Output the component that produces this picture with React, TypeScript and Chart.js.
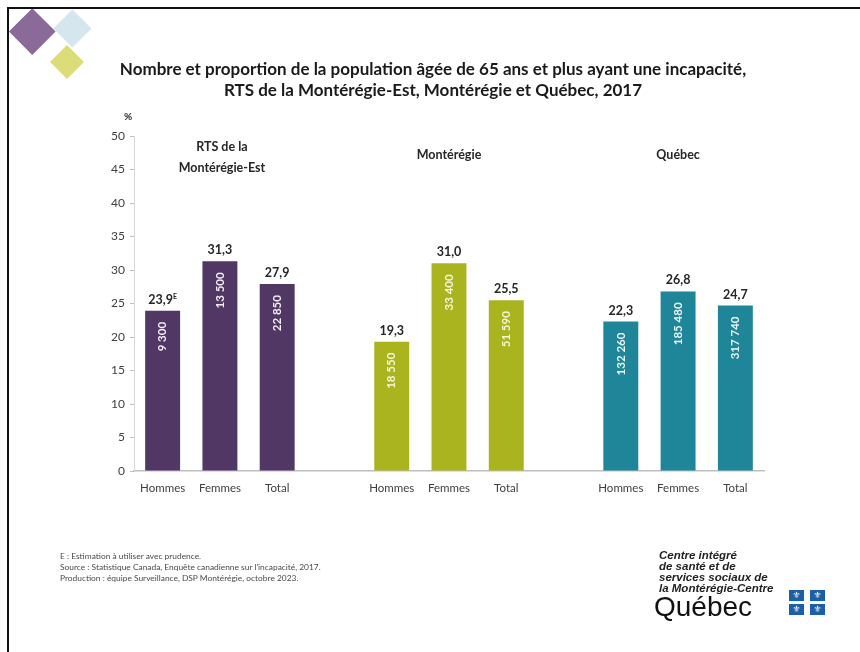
import React, { useEffect, useRef } from "react";
import { Chart, registerables } from "chart.js";

Chart.register(...registerables);

const groupNames: string[][] = [["RTS de la", "Montérégie-Est"], ["Montérégie"], ["Québec"]];
const sexLabels: string[] = ["Hommes", "Femmes", "Total"];
const rtsPct: number[] = [23.9, 31.3, 27.9];
const montPct: number[] = [19.3, 31.0, 25.5];
const quebecPct: number[] = [22.3, 26.8, 24.7];
const rtsCounts: number[] = [9300, 13500, 22850];
const montCounts: number[] = [18550, 33400, 51590];
const quebecCounts: number[] = [132260, 185480, 317740];
const rtsFlags: string[] = ["E", "", ""];
const montFlags: string[] = ["", "", ""];
const quebecFlags: string[] = ["", "", ""];
const groupColors: string[] = ["#513764", "#a9b41f", "#1f8598"];
const countTextColors: string[] = ["#f3eef7", "#f6f6d8", "#eaf6f8"];
const yTicks: number[] = [0, 5, 10, 15, 20, 25, 30, 35, 40, 45, 50];

const FONT = "Lato, 'Open Sans', sans-serif";

const pctGroups = [rtsPct, montPct, quebecPct];
const countGroups = [rtsCounts, montCounts, quebecCounts];
const flagGroups = [rtsFlags, montFlags, quebecFlags];

// build flat category table with spacer slots between groups
const labels: string[] = [];
const values: (number | null)[] = [];
const counts: (number | null)[] = [];
const flags: string[] = [];
const colors: string[] = [];
const textColors: string[] = [];
pctGroups.forEach((g, gi) => {
  if (gi > 0) {
    labels.push("");
    values.push(null);
    counts.push(null);
    flags.push("");
    colors.push("rgba(0,0,0,0)");
    textColors.push("#fff");
  }
  g.forEach((v, i) => {
    labels.push(sexLabels[i]);
    values.push(v);
    counts.push(countGroups[gi][i]);
    flags.push(flagGroups[gi][i]);
    colors.push(groupColors[gi]);
    textColors.push(countTextColors[gi]);
  });
});

const fmtPct = (v: number) => v.toFixed(1).replace(".", ",");
const fmtCount = (v: number) => String(v).replace(/\B(?=(\d{3})+(?!\d))/g, " ");

const labelPlugin = {
  id: "barLabels",
  afterDatasetsDraw(chart: any) {
    const ctx = chart.ctx;
    const meta = chart.getDatasetMeta(0);
    const xs = chart.scales.x;
    const ys = chart.scales.y;
    ctx.save();
    meta.data.forEach((bar: any, i: number) => {
      const v = values[i];
      if (v == null) return;
      // value above bar
      ctx.fillStyle = "#262626";
      ctx.textBaseline = "alphabetic";
      ctx.font = `bold 12.5px ${FONT}`;
      const txt = fmtPct(v);
      const w = ctx.measureText(txt).width;
      const f = flags[i];
      let fw = 0;
      ctx.font = `bold 7px ${FONT}`;
      if (f) fw = ctx.measureText(f).width;
      const startX = bar.x - (w + fw) / 2;
      ctx.font = `bold 12.5px ${FONT}`;
      ctx.textAlign = "left";
      ctx.fillText(txt, startX, bar.y - 7);
      if (f) {
        ctx.font = `bold 7px ${FONT}`;
        ctx.fillText(f, startX + w, bar.y - 12);
      }
      // count inside bar, rotated
      const c = counts[i];
      if (c != null) {
        ctx.save();
        ctx.translate(bar.x, bar.y + 11);
        ctx.rotate(-Math.PI / 2);
        ctx.fillStyle = textColors[i];
        ctx.font = `bold 11.5px ${FONT}`;
        ctx.textAlign = "right";
        ctx.textBaseline = "middle";
        ctx.fillText(fmtCount(c), 0, 0);
        ctx.restore();
      }
    });
    // group titles
    ctx.fillStyle = "#262626";
    ctx.font = `bold 12.5px ${FONT}`;
    ctx.textAlign = "center";
    ctx.textBaseline = "middle";
    groupNames.forEach((lines, gi) => {
      const idx = gi * 4 + 1;
      const cx = xs.getPixelForValue(idx);
      const multi = lines.length > 1;
      const cy = ys.getPixelForValue(47.2) + (multi ? 3 : 0);
      const lh = 21;
      const y0 = cy - ((lines.length - 1) * lh) / 2;
      lines.forEach((ln, li) => ctx.fillText(ln, cx + (multi ? 2 : 0), y0 + li * lh));
    });
    // % unit
    ctx.font = `bold 10px ${FONT}`;
    ctx.textAlign = "center";
    ctx.fillText("%", chart.chartArea.left - 6, ys.getPixelForValue(50) - 19);
    ctx.restore();
  },
};

export default function App() {
  const canvasRef = useRef<HTMLCanvasElement | null>(null);

  useEffect(() => {
    const canvas = canvasRef.current;
    if (!canvas) return;
    const chart = new Chart(canvas, {
      type: "bar",
      data: {
        labels,
        datasets: [
          {
            data: values as any,
            backgroundColor: colors,
            barPercentage: 0.61,
            categoryPercentage: 1,
          },
        ],
      },
      options: {
        responsive: false,
        animation: false,
        layout: { padding: { left: 100, right: 96, top: 136, bottom: 151 } },
        plugins: { legend: { display: false }, tooltip: { enabled: false }, title: { display: false } },
        scales: {
          x: {
            grid: { display: false, drawTicks: false },
            border: { display: true, color: "#bfbfbf", width: 1.5 },
            ticks: {
              autoSkip: false,
              maxRotation: 0,
              padding: 10,
              color: "#404040",
              font: { family: FONT, size: 11.5 },
            },
            afterFit: (s: any) => {
              s.height = 30;
            },
          },
          y: {
            min: 0,
            max: 50,
            afterBuildTicks: (s: any) => {
              s.ticks = yTicks.map((v) => ({ value: v }));
            },
            grid: { drawOnChartArea: false, drawTicks: true, tickLength: 4, color: "#bfbfbf" },
            border: { display: true, color: "#d9d9d9", width: 1 },
            ticks: {
              padding: 5,
              color: "#404040",
              font: { family: FONT, size: 12 },
            },
            afterFit: (s: any) => {
              s.width = 34;
            },
          },
        },
      },
      plugins: [labelPlugin],
    });
    return () => chart.destroy();
  }, []);

  const diamond = (cx: number, cy: number, half: number, color: string) => (
    <div
      style={{
        position: "absolute",
        left: cx - half / Math.SQRT2,
        top: cy - half / Math.SQRT2,
        width: half * Math.SQRT2,
        height: half * Math.SQRT2,
        background: color,
        transform: "rotate(45deg)",
      }}
    />
  );

  const flag = (x: number, y: number) => (
    <div
      style={{
        position: "absolute",
        left: x,
        top: y,
        width: 15,
        height: 11,
        background: "#1b5fa6",
        color: "#fff",
        fontSize: 9,
        lineHeight: "11px",
        textAlign: "center",
        fontFamily: "'DejaVu Sans', sans-serif",
      }}
    >
      ⚜
    </div>
  );

  return (
    <div
      style={{
        position: "fixed",
        left: 0,
        top: 0,
        width: 860,
        height: 652,
        background: "#fff",
        overflow: "hidden",
        fontFamily: FONT,
      }}
    >
      {diamond(32, 31, 23, "#8a6a98")}
      {diamond(72, 28, 19, "#d5e6ee")}
      {diamond(67, 62, 17, "#dbde78")}
      <div
        style={{
          position: "absolute",
          left: 7,
          top: 7,
          width: 900,
          height: 700,
          borderTop: "2.5px solid #111",
          borderLeft: "2.5px solid #111",
        }}
      />
      <canvas ref={canvasRef} width={860} height={652} style={{ position: "absolute", left: 0, top: 0 }} />
      <div
        style={{
          position: "absolute",
          left: 0,
          width: 866,
          top: 58,
          textAlign: "center",
          fontWeight: 700,
          fontSize: 17,
          lineHeight: "21px",
          color: "#1a1a1a",
        }}
      >
        Nombre et proportion de la population âgée de 65 ans et plus ayant une incapacité,
        <br />
        RTS de la Montérégie-Est, Montérégie et Québec, 2017
      </div>
      <div
        style={{
          position: "absolute",
          left: 60,
          top: 551,
          fontSize: 8.4,
          lineHeight: "11px",
          color: "#4a4a4a",
        }}
      >
        E : Estimation à utiliser avec prudence.
        <br />
        Source : Statistique Canada, Enquête canadienne sur l'incapacité, 2017.
        <br />
        Production : équipe Surveillance, DSP Montérégie, octobre 2023.
      </div>
      <div
        style={{
          position: "absolute",
          left: 659,
          top: 550,
          fontSize: 11.5,
          lineHeight: "11px",
          fontWeight: 700,
          fontStyle: "italic",
          color: "#222",
          fontFamily: "'Liberation Sans', Arial, sans-serif",
        }}
      >
        Centre intégré
        <br />
        de santé et de
        <br />
        services sociaux de
        <br />
        la Montérégie-Centre
      </div>
      <div
        style={{
          position: "absolute",
          left: 654,
          top: 591,
          fontSize: 28,
          lineHeight: "32px",
          color: "#111",
          fontFamily: "'Liberation Sans', Arial, sans-serif",
        }}
      >
        Québec
      </div>
      {flag(789, 590)}
      {flag(810, 590)}
      {flag(789, 604)}
      {flag(810, 604)}
    </div>
  );
}
